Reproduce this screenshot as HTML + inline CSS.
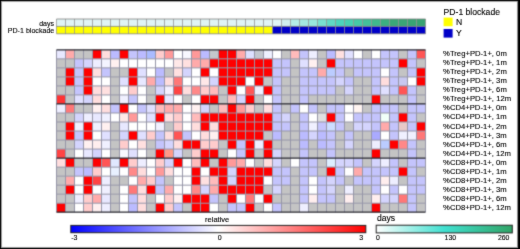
<!DOCTYPE html>
<html><head><meta charset="utf-8"><title>PD-1 blockade heatmap</title>
<style>html,body{margin:0;padding:0;background:#fff;width:520px;height:249px;overflow:hidden}svg{display:block}</style>
</head><body><svg width="520" height="249" viewBox="0 0 520 249"><filter id="bl" filterUnits="userSpaceOnUse" x="0" y="0" width="520" height="249" color-interpolation-filters="sRGB"><feConvolveMatrix order="3" kernelMatrix="0.025 0.1 0.025 0.1 0.5 0.1 0.025 0.1 0.025" edgeMode="duplicate"/></filter><filter id="bt" filterUnits="userSpaceOnUse" x="0" y="0" width="520" height="249" color-interpolation-filters="sRGB"><feConvolveMatrix order="3" kernelMatrix="0.015 0.06 0.015 0.06 0.7 0.06 0.015 0.06 0.015" edgeMode="duplicate"/></filter><g filter="url(#bl)"><rect x="0" y="0" width="520" height="249" fill="#fff"/><rect x="56.5" y="19.0" width="9" height="7.4" fill="#e0f4f4"/><rect x="56.5" y="26.4" width="9" height="7.4" fill="#ffff00"/><rect x="65.5" y="19.0" width="9" height="7.4" fill="#e0f4f4"/><rect x="65.5" y="26.4" width="9" height="7.4" fill="#ffff00"/><rect x="74.5" y="19.0" width="9" height="7.4" fill="#e0f4f4"/><rect x="74.5" y="26.4" width="9" height="7.4" fill="#ffff00"/><rect x="83.5" y="19.0" width="9" height="7.4" fill="#e0f4f4"/><rect x="83.5" y="26.4" width="9" height="7.4" fill="#ffff00"/><rect x="92.5" y="19.0" width="9" height="7.4" fill="#e0f4f4"/><rect x="92.5" y="26.4" width="9" height="7.4" fill="#ffff00"/><rect x="101.5" y="19.0" width="9" height="7.4" fill="#e0f4f4"/><rect x="101.5" y="26.4" width="9" height="7.4" fill="#ffff00"/><rect x="110.5" y="19.0" width="9" height="7.4" fill="#e0f4f4"/><rect x="110.5" y="26.4" width="9" height="7.4" fill="#ffff00"/><rect x="119.5" y="19.0" width="9" height="7.4" fill="#e0f4f4"/><rect x="119.5" y="26.4" width="9" height="7.4" fill="#ffff00"/><rect x="128.5" y="19.0" width="9" height="7.4" fill="#e0f4f4"/><rect x="128.5" y="26.4" width="9" height="7.4" fill="#ffff00"/><rect x="137.5" y="19.0" width="9" height="7.4" fill="#e0f4f4"/><rect x="137.5" y="26.4" width="9" height="7.4" fill="#ffff00"/><rect x="146.5" y="19.0" width="9" height="7.4" fill="#e0f4f4"/><rect x="146.5" y="26.4" width="9" height="7.4" fill="#ffff00"/><rect x="155.5" y="19.0" width="9" height="7.4" fill="#e0f4f4"/><rect x="155.5" y="26.4" width="9" height="7.4" fill="#ffff00"/><rect x="164.5" y="19.0" width="9" height="7.4" fill="#e0f4f4"/><rect x="164.5" y="26.4" width="9" height="7.4" fill="#ffff00"/><rect x="173.5" y="19.0" width="9" height="7.4" fill="#e0f4f4"/><rect x="173.5" y="26.4" width="9" height="7.4" fill="#ffff00"/><rect x="182.5" y="19.0" width="9" height="7.4" fill="#e0f4f4"/><rect x="182.5" y="26.4" width="9" height="7.4" fill="#ffff00"/><rect x="191.5" y="19.0" width="9" height="7.4" fill="#e0f4f4"/><rect x="191.5" y="26.4" width="9" height="7.4" fill="#ffff00"/><rect x="200.5" y="19.0" width="9" height="7.4" fill="#e0f4f4"/><rect x="200.5" y="26.4" width="9" height="7.4" fill="#ffff00"/><rect x="209.5" y="19.0" width="9" height="7.4" fill="#e0f4f4"/><rect x="209.5" y="26.4" width="9" height="7.4" fill="#ffff00"/><rect x="218.5" y="19.0" width="9" height="7.4" fill="#e0f4f4"/><rect x="218.5" y="26.4" width="9" height="7.4" fill="#ffff00"/><rect x="227.5" y="19.0" width="9" height="7.4" fill="#e0f4f4"/><rect x="227.5" y="26.4" width="9" height="7.4" fill="#ffff00"/><rect x="236.5" y="19.0" width="9" height="7.4" fill="#e0f4f4"/><rect x="236.5" y="26.4" width="9" height="7.4" fill="#ffff00"/><rect x="245.5" y="19.0" width="9" height="7.4" fill="#e0f4f4"/><rect x="245.5" y="26.4" width="9" height="7.4" fill="#ffff00"/><rect x="254.5" y="19.0" width="9" height="7.4" fill="#e0f4f4"/><rect x="254.5" y="26.4" width="9" height="7.4" fill="#ffff00"/><rect x="263.5" y="19.0" width="9" height="7.4" fill="#e0f4f4"/><rect x="263.5" y="26.4" width="9" height="7.4" fill="#ffff00"/><rect x="272.5" y="19.0" width="9" height="7.4" fill="#e0f5f5"/><rect x="272.5" y="26.4" width="9" height="7.4" fill="#0000c8"/><rect x="281.5" y="19.0" width="9" height="7.4" fill="#d0f0ee"/><rect x="281.5" y="26.4" width="9" height="7.4" fill="#0000c8"/><rect x="290.5" y="19.0" width="9" height="7.4" fill="#b4ece6"/><rect x="290.5" y="26.4" width="9" height="7.4" fill="#0000c8"/><rect x="299.5" y="19.0" width="9" height="7.4" fill="#a4e8e0"/><rect x="299.5" y="26.4" width="9" height="7.4" fill="#0000c8"/><rect x="308.5" y="19.0" width="9" height="7.4" fill="#98e6dc"/><rect x="308.5" y="26.4" width="9" height="7.4" fill="#0000c8"/><rect x="317.5" y="19.0" width="9" height="7.4" fill="#78dfd0"/><rect x="317.5" y="26.4" width="9" height="7.4" fill="#0000c8"/><rect x="326.5" y="19.0" width="9" height="7.4" fill="#60d8c4"/><rect x="326.5" y="26.4" width="9" height="7.4" fill="#0000c8"/><rect x="335.5" y="19.0" width="9" height="7.4" fill="#4cd4bc"/><rect x="335.5" y="26.4" width="9" height="7.4" fill="#0000c8"/><rect x="344.5" y="19.0" width="9" height="7.4" fill="#48d0b2"/><rect x="344.5" y="26.4" width="9" height="7.4" fill="#0000c8"/><rect x="353.5" y="19.0" width="9" height="7.4" fill="#46c8a6"/><rect x="353.5" y="26.4" width="9" height="7.4" fill="#0000c8"/><rect x="362.5" y="19.0" width="9" height="7.4" fill="#44c09a"/><rect x="362.5" y="26.4" width="9" height="7.4" fill="#0000c8"/><rect x="371.5" y="19.0" width="9" height="7.4" fill="#40b88c"/><rect x="371.5" y="26.4" width="9" height="7.4" fill="#0000c8"/><rect x="380.5" y="19.0" width="9" height="7.4" fill="#3cb080"/><rect x="380.5" y="26.4" width="9" height="7.4" fill="#0000c8"/><rect x="389.5" y="19.0" width="9" height="7.4" fill="#3aa878"/><rect x="389.5" y="26.4" width="9" height="7.4" fill="#0000c8"/><rect x="398.5" y="19.0" width="9" height="7.4" fill="#3aa676"/><rect x="398.5" y="26.4" width="9" height="7.4" fill="#0000c8"/><rect x="407.5" y="19.0" width="9" height="7.4" fill="#38a474"/><rect x="407.5" y="26.4" width="9" height="7.4" fill="#0000c8"/><rect x="416.5" y="19.0" width="9" height="7.4" fill="#38a272"/><rect x="416.5" y="26.4" width="9" height="7.4" fill="#0000c8"/><line x1="56.5" y1="19.0" x2="56.5" y2="33.8" stroke="#8a8a8a" stroke-width="0.7"/><line x1="65.5" y1="19.0" x2="65.5" y2="33.8" stroke="#8a8a8a" stroke-width="0.7"/><line x1="74.5" y1="19.0" x2="74.5" y2="33.8" stroke="#8a8a8a" stroke-width="0.7"/><line x1="83.5" y1="19.0" x2="83.5" y2="33.8" stroke="#8a8a8a" stroke-width="0.7"/><line x1="92.5" y1="19.0" x2="92.5" y2="33.8" stroke="#8a8a8a" stroke-width="0.7"/><line x1="101.5" y1="19.0" x2="101.5" y2="33.8" stroke="#8a8a8a" stroke-width="0.7"/><line x1="110.5" y1="19.0" x2="110.5" y2="33.8" stroke="#8a8a8a" stroke-width="0.7"/><line x1="119.5" y1="19.0" x2="119.5" y2="33.8" stroke="#8a8a8a" stroke-width="0.7"/><line x1="128.5" y1="19.0" x2="128.5" y2="33.8" stroke="#8a8a8a" stroke-width="0.7"/><line x1="137.5" y1="19.0" x2="137.5" y2="33.8" stroke="#8a8a8a" stroke-width="0.7"/><line x1="146.5" y1="19.0" x2="146.5" y2="33.8" stroke="#8a8a8a" stroke-width="0.7"/><line x1="155.5" y1="19.0" x2="155.5" y2="33.8" stroke="#8a8a8a" stroke-width="0.7"/><line x1="164.5" y1="19.0" x2="164.5" y2="33.8" stroke="#8a8a8a" stroke-width="0.7"/><line x1="173.5" y1="19.0" x2="173.5" y2="33.8" stroke="#8a8a8a" stroke-width="0.7"/><line x1="182.5" y1="19.0" x2="182.5" y2="33.8" stroke="#8a8a8a" stroke-width="0.7"/><line x1="191.5" y1="19.0" x2="191.5" y2="33.8" stroke="#8a8a8a" stroke-width="0.7"/><line x1="200.5" y1="19.0" x2="200.5" y2="33.8" stroke="#8a8a8a" stroke-width="0.7"/><line x1="209.5" y1="19.0" x2="209.5" y2="33.8" stroke="#8a8a8a" stroke-width="0.7"/><line x1="218.5" y1="19.0" x2="218.5" y2="33.8" stroke="#8a8a8a" stroke-width="0.7"/><line x1="227.5" y1="19.0" x2="227.5" y2="33.8" stroke="#8a8a8a" stroke-width="0.7"/><line x1="236.5" y1="19.0" x2="236.5" y2="33.8" stroke="#8a8a8a" stroke-width="0.7"/><line x1="245.5" y1="19.0" x2="245.5" y2="33.8" stroke="#8a8a8a" stroke-width="0.7"/><line x1="254.5" y1="19.0" x2="254.5" y2="33.8" stroke="#8a8a8a" stroke-width="0.7"/><line x1="263.5" y1="19.0" x2="263.5" y2="33.8" stroke="#8a8a8a" stroke-width="0.7"/><line x1="272.5" y1="19.0" x2="272.5" y2="33.8" stroke="#8a8a8a" stroke-width="0.7"/><line x1="281.5" y1="19.0" x2="281.5" y2="33.8" stroke="#8a8a8a" stroke-width="0.7"/><line x1="290.5" y1="19.0" x2="290.5" y2="33.8" stroke="#8a8a8a" stroke-width="0.7"/><line x1="299.5" y1="19.0" x2="299.5" y2="33.8" stroke="#8a8a8a" stroke-width="0.7"/><line x1="308.5" y1="19.0" x2="308.5" y2="33.8" stroke="#8a8a8a" stroke-width="0.7"/><line x1="317.5" y1="19.0" x2="317.5" y2="33.8" stroke="#8a8a8a" stroke-width="0.7"/><line x1="326.5" y1="19.0" x2="326.5" y2="33.8" stroke="#8a8a8a" stroke-width="0.7"/><line x1="335.5" y1="19.0" x2="335.5" y2="33.8" stroke="#8a8a8a" stroke-width="0.7"/><line x1="344.5" y1="19.0" x2="344.5" y2="33.8" stroke="#8a8a8a" stroke-width="0.7"/><line x1="353.5" y1="19.0" x2="353.5" y2="33.8" stroke="#8a8a8a" stroke-width="0.7"/><line x1="362.5" y1="19.0" x2="362.5" y2="33.8" stroke="#8a8a8a" stroke-width="0.7"/><line x1="371.5" y1="19.0" x2="371.5" y2="33.8" stroke="#8a8a8a" stroke-width="0.7"/><line x1="380.5" y1="19.0" x2="380.5" y2="33.8" stroke="#8a8a8a" stroke-width="0.7"/><line x1="389.5" y1="19.0" x2="389.5" y2="33.8" stroke="#8a8a8a" stroke-width="0.7"/><line x1="398.5" y1="19.0" x2="398.5" y2="33.8" stroke="#8a8a8a" stroke-width="0.7"/><line x1="407.5" y1="19.0" x2="407.5" y2="33.8" stroke="#8a8a8a" stroke-width="0.7"/><line x1="416.5" y1="19.0" x2="416.5" y2="33.8" stroke="#8a8a8a" stroke-width="0.7"/><line x1="425.5" y1="19.0" x2="425.5" y2="33.8" stroke="#8a8a8a" stroke-width="0.7"/><line x1="56.5" y1="19.0" x2="425.5" y2="19.0" stroke="#808080" stroke-width="0.8"/><line x1="56.5" y1="26.4" x2="425.5" y2="26.4" stroke="#808080" stroke-width="0.8"/><line x1="56.5" y1="33.8" x2="425.5" y2="33.8" stroke="#808080" stroke-width="0.8"/><rect x="56.5" y="49.85" width="9" height="9.02" fill="#e8e8ff"/><rect x="65.5" y="49.85" width="9" height="9.02" fill="#ffaaaa"/><rect x="74.5" y="49.85" width="9" height="9.02" fill="#c4c4c4"/><rect x="83.5" y="49.85" width="9" height="9.02" fill="#c4c4c4"/><rect x="92.5" y="49.85" width="9" height="9.02" fill="#ff0000"/><rect x="101.5" y="49.85" width="9" height="9.02" fill="#ffdddd"/><rect x="110.5" y="49.85" width="9" height="9.02" fill="#bbbbff"/><rect x="119.5" y="49.85" width="9" height="9.02" fill="#ff0000"/><rect x="128.5" y="49.85" width="9" height="9.02" fill="#c4c4fc"/><rect x="137.5" y="49.85" width="9" height="9.02" fill="#bbbbff"/><rect x="146.5" y="49.85" width="9" height="9.02" fill="#aabbff"/><rect x="155.5" y="49.85" width="9" height="9.02" fill="#ffcccc"/><rect x="164.5" y="49.85" width="9" height="9.02" fill="#ff9999"/><rect x="173.5" y="49.85" width="9" height="9.02" fill="#ffffff"/><rect x="182.5" y="49.85" width="9" height="9.02" fill="#f8f8ff"/><rect x="191.5" y="49.85" width="9" height="9.02" fill="#ff9999"/><rect x="200.5" y="49.85" width="9" height="9.02" fill="#bbbbff"/><rect x="209.5" y="49.85" width="9" height="9.02" fill="#c4c8cc"/><rect x="218.5" y="49.85" width="9" height="9.02" fill="#ff0000"/><rect x="227.5" y="49.85" width="9" height="9.02" fill="#ff0000"/><rect x="236.5" y="49.85" width="9" height="9.02" fill="#ffaaaa"/><rect x="245.5" y="49.85" width="9" height="9.02" fill="#dde0ff"/><rect x="254.5" y="49.85" width="9" height="9.02" fill="#c4c8d0"/><rect x="263.5" y="49.85" width="9" height="9.02" fill="#eef0ff"/><rect x="272.5" y="49.85" width="9" height="9.02" fill="#ffffff"/><rect x="281.5" y="49.85" width="9" height="9.02" fill="#c4c4c4"/><rect x="290.5" y="49.85" width="9" height="9.02" fill="#ffbbbb"/><rect x="299.5" y="49.85" width="9" height="9.02" fill="#c4c4fc"/><rect x="308.5" y="49.85" width="9" height="9.02" fill="#eeeeff"/><rect x="317.5" y="49.85" width="9" height="9.02" fill="#c4c4c4"/><rect x="326.5" y="49.85" width="9" height="9.02" fill="#bbbbff"/><rect x="335.5" y="49.85" width="9" height="9.02" fill="#ffe0e0"/><rect x="344.5" y="49.85" width="9" height="9.02" fill="#e0e0ff"/><rect x="353.5" y="49.85" width="9" height="9.02" fill="#ffffff"/><rect x="362.5" y="49.85" width="9" height="9.02" fill="#c4c4c4"/><rect x="371.5" y="49.85" width="9" height="9.02" fill="#ffffff"/><rect x="380.5" y="49.85" width="9" height="9.02" fill="#c4c4fc"/><rect x="389.5" y="49.85" width="9" height="9.02" fill="#c4c4fc"/><rect x="398.5" y="49.85" width="9" height="9.02" fill="#c4c4c4"/><rect x="407.5" y="49.85" width="9" height="9.02" fill="#c4c4fc"/><rect x="416.5" y="49.85" width="9" height="9.02" fill="#ff5555"/><rect x="56.5" y="58.87" width="9" height="9.02" fill="#c4c4c4"/><rect x="65.5" y="58.87" width="9" height="9.02" fill="#c4c4c4"/><rect x="74.5" y="58.87" width="9" height="9.02" fill="#c4c4fc"/><rect x="83.5" y="58.87" width="9" height="9.02" fill="#d4d4fd"/><rect x="92.5" y="58.87" width="9" height="9.02" fill="#eeeeff"/><rect x="101.5" y="58.87" width="9" height="9.02" fill="#f4f4ff"/><rect x="110.5" y="58.87" width="9" height="9.02" fill="#fff0f0"/><rect x="119.5" y="58.87" width="9" height="9.02" fill="#ffffff"/><rect x="128.5" y="58.87" width="9" height="9.02" fill="#ffffff"/><rect x="137.5" y="58.87" width="9" height="9.02" fill="#ffffff"/><rect x="146.5" y="58.87" width="9" height="9.02" fill="#ffffff"/><rect x="155.5" y="58.87" width="9" height="9.02" fill="#ffffff"/><rect x="164.5" y="58.87" width="9" height="9.02" fill="#ffffff"/><rect x="173.5" y="58.87" width="9" height="9.02" fill="#ffe8e8"/><rect x="182.5" y="58.87" width="9" height="9.02" fill="#ffe0e0"/><rect x="191.5" y="58.87" width="9" height="9.02" fill="#ffaaaa"/><rect x="200.5" y="58.87" width="9" height="9.02" fill="#ffaaaa"/><rect x="209.5" y="58.87" width="9" height="9.02" fill="#ff0000"/><rect x="218.5" y="58.87" width="9" height="9.02" fill="#ff0000"/><rect x="227.5" y="58.87" width="9" height="9.02" fill="#ff0000"/><rect x="236.5" y="58.87" width="9" height="9.02" fill="#ff0000"/><rect x="245.5" y="58.87" width="9" height="9.02" fill="#ff0000"/><rect x="254.5" y="58.87" width="9" height="9.02" fill="#ff0000"/><rect x="263.5" y="58.87" width="9" height="9.02" fill="#ff0000"/><rect x="272.5" y="58.87" width="9" height="9.02" fill="#c4c4fc"/><rect x="281.5" y="58.87" width="9" height="9.02" fill="#c4c4fc"/><rect x="290.5" y="58.87" width="9" height="9.02" fill="#c4c4c4"/><rect x="299.5" y="58.87" width="9" height="9.02" fill="#e0e0ff"/><rect x="308.5" y="58.87" width="9" height="9.02" fill="#fff0f0"/><rect x="317.5" y="58.87" width="9" height="9.02" fill="#c4c4c4"/><rect x="326.5" y="58.87" width="9" height="9.02" fill="#ff0000"/><rect x="335.5" y="58.87" width="9" height="9.02" fill="#c4c4fc"/><rect x="344.5" y="58.87" width="9" height="9.02" fill="#c4c4fc"/><rect x="353.5" y="58.87" width="9" height="9.02" fill="#c4c4fc"/><rect x="362.5" y="58.87" width="9" height="9.02" fill="#c4c4fc"/><rect x="371.5" y="58.87" width="9" height="9.02" fill="#c4c4fc"/><rect x="380.5" y="58.87" width="9" height="9.02" fill="#c4c4fc"/><rect x="389.5" y="58.87" width="9" height="9.02" fill="#c4c4fc"/><rect x="398.5" y="58.87" width="9" height="9.02" fill="#ff0000"/><rect x="407.5" y="58.87" width="9" height="9.02" fill="#c4c4fc"/><rect x="416.5" y="58.87" width="9" height="9.02" fill="#c4c4c4"/><rect x="56.5" y="67.89" width="9" height="9.02" fill="#c4c4c4"/><rect x="65.5" y="67.89" width="9" height="9.02" fill="#ff0000"/><rect x="74.5" y="67.89" width="9" height="9.02" fill="#c4c4fc"/><rect x="83.5" y="67.89" width="9" height="9.02" fill="#ff0000"/><rect x="92.5" y="67.89" width="9" height="9.02" fill="#ffe0e0"/><rect x="101.5" y="67.89" width="9" height="9.02" fill="#c4c4fc"/><rect x="110.5" y="67.89" width="9" height="9.02" fill="#c4c4c4"/><rect x="119.5" y="67.89" width="9" height="9.02" fill="#c4c4c4"/><rect x="128.5" y="67.89" width="9" height="9.02" fill="#ff0000"/><rect x="137.5" y="67.89" width="9" height="9.02" fill="#e0e0ff"/><rect x="146.5" y="67.89" width="9" height="9.02" fill="#ffffff"/><rect x="155.5" y="67.89" width="9" height="9.02" fill="#bbbbff"/><rect x="164.5" y="67.89" width="9" height="9.02" fill="#c4c4c4"/><rect x="173.5" y="67.89" width="9" height="9.02" fill="#ffe0e0"/><rect x="182.5" y="67.89" width="9" height="9.02" fill="#d4d4fd"/><rect x="191.5" y="67.89" width="9" height="9.02" fill="#ffffff"/><rect x="200.5" y="67.89" width="9" height="9.02" fill="#ff0000"/><rect x="209.5" y="67.89" width="9" height="9.02" fill="#ffffff"/><rect x="218.5" y="67.89" width="9" height="9.02" fill="#ff0000"/><rect x="227.5" y="67.89" width="9" height="9.02" fill="#ff0000"/><rect x="236.5" y="67.89" width="9" height="9.02" fill="#ff0000"/><rect x="245.5" y="67.89" width="9" height="9.02" fill="#ff0000"/><rect x="254.5" y="67.89" width="9" height="9.02" fill="#ff0000"/><rect x="263.5" y="67.89" width="9" height="9.02" fill="#ff0000"/><rect x="272.5" y="67.89" width="9" height="9.02" fill="#c4c4fc"/><rect x="281.5" y="67.89" width="9" height="9.02" fill="#c4c4fc"/><rect x="290.5" y="67.89" width="9" height="9.02" fill="#c4c4c4"/><rect x="299.5" y="67.89" width="9" height="9.02" fill="#c4c4fc"/><rect x="308.5" y="67.89" width="9" height="9.02" fill="#c4c4fc"/><rect x="317.5" y="67.89" width="9" height="9.02" fill="#ffaaaa"/><rect x="326.5" y="67.89" width="9" height="9.02" fill="#bbccff"/><rect x="335.5" y="67.89" width="9" height="9.02" fill="#c4c4fc"/><rect x="344.5" y="67.89" width="9" height="9.02" fill="#c4c4c4"/><rect x="353.5" y="67.89" width="9" height="9.02" fill="#c4c4fc"/><rect x="362.5" y="67.89" width="9" height="9.02" fill="#c4c4fc"/><rect x="371.5" y="67.89" width="9" height="9.02" fill="#c4c4fc"/><rect x="380.5" y="67.89" width="9" height="9.02" fill="#ffffff"/><rect x="389.5" y="67.89" width="9" height="9.02" fill="#c4c4fc"/><rect x="398.5" y="67.89" width="9" height="9.02" fill="#c4c4c4"/><rect x="407.5" y="67.89" width="9" height="9.02" fill="#c4c4fc"/><rect x="416.5" y="67.89" width="9" height="9.02" fill="#ff0000"/><rect x="56.5" y="76.91" width="9" height="9.02" fill="#c4c4c4"/><rect x="65.5" y="76.91" width="9" height="9.02" fill="#ff0000"/><rect x="74.5" y="76.91" width="9" height="9.02" fill="#c4c4fc"/><rect x="83.5" y="76.91" width="9" height="9.02" fill="#ff0000"/><rect x="92.5" y="76.91" width="9" height="9.02" fill="#ffffff"/><rect x="101.5" y="76.91" width="9" height="9.02" fill="#ffffff"/><rect x="110.5" y="76.91" width="9" height="9.02" fill="#c4c4c4"/><rect x="119.5" y="76.91" width="9" height="9.02" fill="#e0e0ff"/><rect x="128.5" y="76.91" width="9" height="9.02" fill="#ff0000"/><rect x="137.5" y="76.91" width="9" height="9.02" fill="#e8e8ff"/><rect x="146.5" y="76.91" width="9" height="9.02" fill="#ffaaaa"/><rect x="155.5" y="76.91" width="9" height="9.02" fill="#bbbbff"/><rect x="164.5" y="76.91" width="9" height="9.02" fill="#ffdddd"/><rect x="173.5" y="76.91" width="9" height="9.02" fill="#ff7777"/><rect x="182.5" y="76.91" width="9" height="9.02" fill="#ffffff"/><rect x="191.5" y="76.91" width="9" height="9.02" fill="#ffffff"/><rect x="200.5" y="76.91" width="9" height="9.02" fill="#ffe8e8"/><rect x="209.5" y="76.91" width="9" height="9.02" fill="#d4d4fd"/><rect x="218.5" y="76.91" width="9" height="9.02" fill="#ff0000"/><rect x="227.5" y="76.91" width="9" height="9.02" fill="#ff0000"/><rect x="236.5" y="76.91" width="9" height="9.02" fill="#ff0000"/><rect x="245.5" y="76.91" width="9" height="9.02" fill="#ffffff"/><rect x="254.5" y="76.91" width="9" height="9.02" fill="#ff0000"/><rect x="263.5" y="76.91" width="9" height="9.02" fill="#c4c4c4"/><rect x="272.5" y="76.91" width="9" height="9.02" fill="#c4c4fc"/><rect x="281.5" y="76.91" width="9" height="9.02" fill="#c4c4c4"/><rect x="290.5" y="76.91" width="9" height="9.02" fill="#c4c4c4"/><rect x="299.5" y="76.91" width="9" height="9.02" fill="#c4c4fc"/><rect x="308.5" y="76.91" width="9" height="9.02" fill="#c4c4fc"/><rect x="317.5" y="76.91" width="9" height="9.02" fill="#c4c4fc"/><rect x="326.5" y="76.91" width="9" height="9.02" fill="#c4c4fc"/><rect x="335.5" y="76.91" width="9" height="9.02" fill="#d4d4fd"/><rect x="344.5" y="76.91" width="9" height="9.02" fill="#c4c4fc"/><rect x="353.5" y="76.91" width="9" height="9.02" fill="#c4c4c4"/><rect x="362.5" y="76.91" width="9" height="9.02" fill="#c4c4c4"/><rect x="371.5" y="76.91" width="9" height="9.02" fill="#c4c4fc"/><rect x="380.5" y="76.91" width="9" height="9.02" fill="#ffdddd"/><rect x="389.5" y="76.91" width="9" height="9.02" fill="#c4c4fc"/><rect x="398.5" y="76.91" width="9" height="9.02" fill="#c8c8f0"/><rect x="407.5" y="76.91" width="9" height="9.02" fill="#ffffff"/><rect x="416.5" y="76.91" width="9" height="9.02" fill="#ff0000"/><rect x="56.5" y="85.93" width="9" height="9.02" fill="#c4c4c4"/><rect x="65.5" y="85.93" width="9" height="9.02" fill="#c4c4c4"/><rect x="74.5" y="85.93" width="9" height="9.02" fill="#c4c4fc"/><rect x="83.5" y="85.93" width="9" height="9.02" fill="#ff0000"/><rect x="92.5" y="85.93" width="9" height="9.02" fill="#ffdddd"/><rect x="101.5" y="85.93" width="9" height="9.02" fill="#ffe0e0"/><rect x="110.5" y="85.93" width="9" height="9.02" fill="#c4c4c4"/><rect x="119.5" y="85.93" width="9" height="9.02" fill="#ffffff"/><rect x="128.5" y="85.93" width="9" height="9.02" fill="#ffcccc"/><rect x="137.5" y="85.93" width="9" height="9.02" fill="#ffffff"/><rect x="146.5" y="85.93" width="9" height="9.02" fill="#c4c4c4"/><rect x="155.5" y="85.93" width="9" height="9.02" fill="#d4d4fd"/><rect x="164.5" y="85.93" width="9" height="9.02" fill="#f4f0ff"/><rect x="173.5" y="85.93" width="9" height="9.02" fill="#ff4444"/><rect x="182.5" y="85.93" width="9" height="9.02" fill="#ffdddd"/><rect x="191.5" y="85.93" width="9" height="9.02" fill="#ff8888"/><rect x="200.5" y="85.93" width="9" height="9.02" fill="#ffcccc"/><rect x="209.5" y="85.93" width="9" height="9.02" fill="#ffbbbb"/><rect x="218.5" y="85.93" width="9" height="9.02" fill="#c4c4c4"/><rect x="227.5" y="85.93" width="9" height="9.02" fill="#ff0000"/><rect x="236.5" y="85.93" width="9" height="9.02" fill="#ffffff"/><rect x="245.5" y="85.93" width="9" height="9.02" fill="#ff5555"/><rect x="254.5" y="85.93" width="9" height="9.02" fill="#f0f0ff"/><rect x="263.5" y="85.93" width="9" height="9.02" fill="#ff0000"/><rect x="272.5" y="85.93" width="9" height="9.02" fill="#c4c4fc"/><rect x="281.5" y="85.93" width="9" height="9.02" fill="#c4c4c4"/><rect x="290.5" y="85.93" width="9" height="9.02" fill="#c4c4c4"/><rect x="299.5" y="85.93" width="9" height="9.02" fill="#c4c4fc"/><rect x="308.5" y="85.93" width="9" height="9.02" fill="#c4c4fc"/><rect x="317.5" y="85.93" width="9" height="9.02" fill="#c4c4fc"/><rect x="326.5" y="85.93" width="9" height="9.02" fill="#c4c4fc"/><rect x="335.5" y="85.93" width="9" height="9.02" fill="#c4c4c4"/><rect x="344.5" y="85.93" width="9" height="9.02" fill="#d4d4fd"/><rect x="353.5" y="85.93" width="9" height="9.02" fill="#c4c4c4"/><rect x="362.5" y="85.93" width="9" height="9.02" fill="#c4c4c4"/><rect x="371.5" y="85.93" width="9" height="9.02" fill="#c4c4fc"/><rect x="380.5" y="85.93" width="9" height="9.02" fill="#e0e0ff"/><rect x="389.5" y="85.93" width="9" height="9.02" fill="#c4c4fc"/><rect x="398.5" y="85.93" width="9" height="9.02" fill="#ff5555"/><rect x="407.5" y="85.93" width="9" height="9.02" fill="#c4c4fc"/><rect x="416.5" y="85.93" width="9" height="9.02" fill="#c4c4c4"/><rect x="56.5" y="94.95" width="9" height="9.02" fill="#ff3333"/><rect x="65.5" y="94.95" width="9" height="9.02" fill="#c4c4c4"/><rect x="74.5" y="94.95" width="9" height="9.02" fill="#e0e0ff"/><rect x="83.5" y="94.95" width="9" height="9.02" fill="#d4d4fd"/><rect x="92.5" y="94.95" width="9" height="9.02" fill="#ffdddd"/><rect x="101.5" y="94.95" width="9" height="9.02" fill="#ffffff"/><rect x="110.5" y="94.95" width="9" height="9.02" fill="#c4c4c4"/><rect x="119.5" y="94.95" width="9" height="9.02" fill="#f0f0ff"/><rect x="128.5" y="94.95" width="9" height="9.02" fill="#c4c4fc"/><rect x="137.5" y="94.95" width="9" height="9.02" fill="#ffffff"/><rect x="146.5" y="94.95" width="9" height="9.02" fill="#c4c4c4"/><rect x="155.5" y="94.95" width="9" height="9.02" fill="#ff0000"/><rect x="164.5" y="94.95" width="9" height="9.02" fill="#e8e8ff"/><rect x="173.5" y="94.95" width="9" height="9.02" fill="#ffffff"/><rect x="182.5" y="94.95" width="9" height="9.02" fill="#c4c4c4"/><rect x="191.5" y="94.95" width="9" height="9.02" fill="#ffffff"/><rect x="200.5" y="94.95" width="9" height="9.02" fill="#ff0000"/><rect x="209.5" y="94.95" width="9" height="9.02" fill="#ff0000"/><rect x="218.5" y="94.95" width="9" height="9.02" fill="#c4c4c4"/><rect x="227.5" y="94.95" width="9" height="9.02" fill="#ffbbbb"/><rect x="236.5" y="94.95" width="9" height="9.02" fill="#d4d4fd"/><rect x="245.5" y="94.95" width="9" height="9.02" fill="#ff0000"/><rect x="254.5" y="94.95" width="9" height="9.02" fill="#c4c4c4"/><rect x="263.5" y="94.95" width="9" height="9.02" fill="#ffffff"/><rect x="272.5" y="94.95" width="9" height="9.02" fill="#c4c4fc"/><rect x="281.5" y="94.95" width="9" height="9.02" fill="#c4c4c4"/><rect x="290.5" y="94.95" width="9" height="9.02" fill="#c4c4c4"/><rect x="299.5" y="94.95" width="9" height="9.02" fill="#c4c4fc"/><rect x="308.5" y="94.95" width="9" height="9.02" fill="#c4c4c4"/><rect x="317.5" y="94.95" width="9" height="9.02" fill="#c4c4c4"/><rect x="326.5" y="94.95" width="9" height="9.02" fill="#c4c4c4"/><rect x="335.5" y="94.95" width="9" height="9.02" fill="#c4c4c4"/><rect x="344.5" y="94.95" width="9" height="9.02" fill="#c4c4c4"/><rect x="353.5" y="94.95" width="9" height="9.02" fill="#c4c4c4"/><rect x="362.5" y="94.95" width="9" height="9.02" fill="#c4c4c4"/><rect x="371.5" y="94.95" width="9" height="9.02" fill="#ff0000"/><rect x="380.5" y="94.95" width="9" height="9.02" fill="#c4c4c4"/><rect x="389.5" y="94.95" width="9" height="9.02" fill="#c4c4c4"/><rect x="398.5" y="94.95" width="9" height="9.02" fill="#c4c4c4"/><rect x="407.5" y="94.95" width="9" height="9.02" fill="#c4c4fc"/><rect x="416.5" y="94.95" width="9" height="9.02" fill="#c4c4c4"/><rect x="56.5" y="103.97" width="9" height="9.02" fill="#eeeeff"/><rect x="65.5" y="103.97" width="9" height="9.02" fill="#ff7777"/><rect x="74.5" y="103.97" width="9" height="9.02" fill="#c4c4c4"/><rect x="83.5" y="103.97" width="9" height="9.02" fill="#c4c4c4"/><rect x="92.5" y="103.97" width="9" height="9.02" fill="#fff0f0"/><rect x="101.5" y="103.97" width="9" height="9.02" fill="#ffdddd"/><rect x="110.5" y="103.97" width="9" height="9.02" fill="#c4c4fc"/><rect x="119.5" y="103.97" width="9" height="9.02" fill="#ff0000"/><rect x="128.5" y="103.97" width="9" height="9.02" fill="#ffffff"/><rect x="137.5" y="103.97" width="9" height="9.02" fill="#c4c4fc"/><rect x="146.5" y="103.97" width="9" height="9.02" fill="#e0e0ff"/><rect x="155.5" y="103.97" width="9" height="9.02" fill="#ffbbbb"/><rect x="164.5" y="103.97" width="9" height="9.02" fill="#ffaaaa"/><rect x="173.5" y="103.97" width="9" height="9.02" fill="#ffaaaa"/><rect x="182.5" y="103.97" width="9" height="9.02" fill="#ffffff"/><rect x="191.5" y="103.97" width="9" height="9.02" fill="#fff0f0"/><rect x="200.5" y="103.97" width="9" height="9.02" fill="#d4d4fd"/><rect x="209.5" y="103.97" width="9" height="9.02" fill="#c4c4c4"/><rect x="218.5" y="103.97" width="9" height="9.02" fill="#ffbbbb"/><rect x="227.5" y="103.97" width="9" height="9.02" fill="#ff0000"/><rect x="236.5" y="103.97" width="9" height="9.02" fill="#ff9999"/><rect x="245.5" y="103.97" width="9" height="9.02" fill="#ffcccc"/><rect x="254.5" y="103.97" width="9" height="9.02" fill="#c4c4c4"/><rect x="263.5" y="103.97" width="9" height="9.02" fill="#ffdddd"/><rect x="272.5" y="103.97" width="9" height="9.02" fill="#c4c4fc"/><rect x="281.5" y="103.97" width="9" height="9.02" fill="#c4c4c4"/><rect x="290.5" y="103.97" width="9" height="9.02" fill="#c4c4fc"/><rect x="299.5" y="103.97" width="9" height="9.02" fill="#ffffff"/><rect x="308.5" y="103.97" width="9" height="9.02" fill="#c4c4fc"/><rect x="317.5" y="103.97" width="9" height="9.02" fill="#c4c4c4"/><rect x="326.5" y="103.97" width="9" height="9.02" fill="#c4c4fc"/><rect x="335.5" y="103.97" width="9" height="9.02" fill="#c4c4fc"/><rect x="344.5" y="103.97" width="9" height="9.02" fill="#ffffff"/><rect x="353.5" y="103.97" width="9" height="9.02" fill="#fff4f0"/><rect x="362.5" y="103.97" width="9" height="9.02" fill="#c4c4c4"/><rect x="371.5" y="103.97" width="9" height="9.02" fill="#c4c4fc"/><rect x="380.5" y="103.97" width="9" height="9.02" fill="#c4c4fc"/><rect x="389.5" y="103.97" width="9" height="9.02" fill="#c4c4fc"/><rect x="398.5" y="103.97" width="9" height="9.02" fill="#c4c4c4"/><rect x="407.5" y="103.97" width="9" height="9.02" fill="#c4c4fc"/><rect x="416.5" y="103.97" width="9" height="9.02" fill="#c4c4fc"/><rect x="56.5" y="112.99" width="9" height="9.02" fill="#c4c4c4"/><rect x="65.5" y="112.99" width="9" height="9.02" fill="#c4c4c4"/><rect x="74.5" y="112.99" width="9" height="9.02" fill="#d4d4fd"/><rect x="83.5" y="112.99" width="9" height="9.02" fill="#eeeeff"/><rect x="92.5" y="112.99" width="9" height="9.02" fill="#e8e8ff"/><rect x="101.5" y="112.99" width="9" height="9.02" fill="#f0f0ff"/><rect x="110.5" y="112.99" width="9" height="9.02" fill="#ffffff"/><rect x="119.5" y="112.99" width="9" height="9.02" fill="#ffe8e8"/><rect x="128.5" y="112.99" width="9" height="9.02" fill="#ff9999"/><rect x="137.5" y="112.99" width="9" height="9.02" fill="#ffffff"/><rect x="146.5" y="112.99" width="9" height="9.02" fill="#e0e0ff"/><rect x="155.5" y="112.99" width="9" height="9.02" fill="#ff0000"/><rect x="164.5" y="112.99" width="9" height="9.02" fill="#ffe0e0"/><rect x="173.5" y="112.99" width="9" height="9.02" fill="#ffcccc"/><rect x="182.5" y="112.99" width="9" height="9.02" fill="#ffffff"/><rect x="191.5" y="112.99" width="9" height="9.02" fill="#ffbbbb"/><rect x="200.5" y="112.99" width="9" height="9.02" fill="#ff0000"/><rect x="209.5" y="112.99" width="9" height="9.02" fill="#ff0000"/><rect x="218.5" y="112.99" width="9" height="9.02" fill="#ff0000"/><rect x="227.5" y="112.99" width="9" height="9.02" fill="#ff0000"/><rect x="236.5" y="112.99" width="9" height="9.02" fill="#ff0000"/><rect x="245.5" y="112.99" width="9" height="9.02" fill="#ff0000"/><rect x="254.5" y="112.99" width="9" height="9.02" fill="#ff0000"/><rect x="263.5" y="112.99" width="9" height="9.02" fill="#ff0000"/><rect x="272.5" y="112.99" width="9" height="9.02" fill="#c4c4fc"/><rect x="281.5" y="112.99" width="9" height="9.02" fill="#d4d4fd"/><rect x="290.5" y="112.99" width="9" height="9.02" fill="#c4c4c4"/><rect x="299.5" y="112.99" width="9" height="9.02" fill="#c4c4fc"/><rect x="308.5" y="112.99" width="9" height="9.02" fill="#ffffff"/><rect x="317.5" y="112.99" width="9" height="9.02" fill="#e0e0e0"/><rect x="326.5" y="112.99" width="9" height="9.02" fill="#ff0000"/><rect x="335.5" y="112.99" width="9" height="9.02" fill="#c4c4fc"/><rect x="344.5" y="112.99" width="9" height="9.02" fill="#ffffff"/><rect x="353.5" y="112.99" width="9" height="9.02" fill="#c4c4fc"/><rect x="362.5" y="112.99" width="9" height="9.02" fill="#c4c4fc"/><rect x="371.5" y="112.99" width="9" height="9.02" fill="#c4c4fc"/><rect x="380.5" y="112.99" width="9" height="9.02" fill="#f0fff8"/><rect x="389.5" y="112.99" width="9" height="9.02" fill="#c4c4fc"/><rect x="398.5" y="112.99" width="9" height="9.02" fill="#ff0000"/><rect x="407.5" y="112.99" width="9" height="9.02" fill="#c4c4fc"/><rect x="416.5" y="112.99" width="9" height="9.02" fill="#c4c4c4"/><rect x="56.5" y="122.01" width="9" height="9.02" fill="#c4c4c4"/><rect x="65.5" y="122.01" width="9" height="9.02" fill="#ff0000"/><rect x="74.5" y="122.01" width="9" height="9.02" fill="#f0f0ff"/><rect x="83.5" y="122.01" width="9" height="9.02" fill="#ff0000"/><rect x="92.5" y="122.01" width="9" height="9.02" fill="#f0f0ff"/><rect x="101.5" y="122.01" width="9" height="9.02" fill="#fff0f0"/><rect x="110.5" y="122.01" width="9" height="9.02" fill="#c4c4c4"/><rect x="119.5" y="122.01" width="9" height="9.02" fill="#e8e8ff"/><rect x="128.5" y="122.01" width="9" height="9.02" fill="#ffffff"/><rect x="137.5" y="122.01" width="9" height="9.02" fill="#ffffff"/><rect x="146.5" y="122.01" width="9" height="9.02" fill="#ffffff"/><rect x="155.5" y="122.01" width="9" height="9.02" fill="#f0f0ff"/><rect x="164.5" y="122.01" width="9" height="9.02" fill="#c4c4c4"/><rect x="173.5" y="122.01" width="9" height="9.02" fill="#ffcccc"/><rect x="182.5" y="122.01" width="9" height="9.02" fill="#ffffff"/><rect x="191.5" y="122.01" width="9" height="9.02" fill="#ffdddd"/><rect x="200.5" y="122.01" width="9" height="9.02" fill="#ff0000"/><rect x="209.5" y="122.01" width="9" height="9.02" fill="#ffdddd"/><rect x="218.5" y="122.01" width="9" height="9.02" fill="#ff0000"/><rect x="227.5" y="122.01" width="9" height="9.02" fill="#ff0000"/><rect x="236.5" y="122.01" width="9" height="9.02" fill="#ff0000"/><rect x="245.5" y="122.01" width="9" height="9.02" fill="#ff0000"/><rect x="254.5" y="122.01" width="9" height="9.02" fill="#ff0000"/><rect x="263.5" y="122.01" width="9" height="9.02" fill="#ff0000"/><rect x="272.5" y="122.01" width="9" height="9.02" fill="#c4c4fc"/><rect x="281.5" y="122.01" width="9" height="9.02" fill="#c4c4fc"/><rect x="290.5" y="122.01" width="9" height="9.02" fill="#c4c4c4"/><rect x="299.5" y="122.01" width="9" height="9.02" fill="#c4c4fc"/><rect x="308.5" y="122.01" width="9" height="9.02" fill="#f0f0ff"/><rect x="317.5" y="122.01" width="9" height="9.02" fill="#c4c4fc"/><rect x="326.5" y="122.01" width="9" height="9.02" fill="#ccddff"/><rect x="335.5" y="122.01" width="9" height="9.02" fill="#c4c4fc"/><rect x="344.5" y="122.01" width="9" height="9.02" fill="#c4c4c4"/><rect x="353.5" y="122.01" width="9" height="9.02" fill="#d4d4fd"/><rect x="362.5" y="122.01" width="9" height="9.02" fill="#d4d4fd"/><rect x="371.5" y="122.01" width="9" height="9.02" fill="#c4c4fc"/><rect x="380.5" y="122.01" width="9" height="9.02" fill="#ffaaaa"/><rect x="389.5" y="122.01" width="9" height="9.02" fill="#c4c4fc"/><rect x="398.5" y="122.01" width="9" height="9.02" fill="#e8c8c8"/><rect x="407.5" y="122.01" width="9" height="9.02" fill="#c4c4fc"/><rect x="416.5" y="122.01" width="9" height="9.02" fill="#ff0000"/><rect x="56.5" y="131.03" width="9" height="9.02" fill="#c4c4c4"/><rect x="65.5" y="131.03" width="9" height="9.02" fill="#ff0000"/><rect x="74.5" y="131.03" width="9" height="9.02" fill="#c4c4fc"/><rect x="83.5" y="131.03" width="9" height="9.02" fill="#ff0000"/><rect x="92.5" y="131.03" width="9" height="9.02" fill="#ffffff"/><rect x="101.5" y="131.03" width="9" height="9.02" fill="#e0e0ff"/><rect x="110.5" y="131.03" width="9" height="9.02" fill="#c4c4c4"/><rect x="119.5" y="131.03" width="9" height="9.02" fill="#d4d4fd"/><rect x="128.5" y="131.03" width="9" height="9.02" fill="#ff0000"/><rect x="137.5" y="131.03" width="9" height="9.02" fill="#e0e0ff"/><rect x="146.5" y="131.03" width="9" height="9.02" fill="#ffcccc"/><rect x="155.5" y="131.03" width="9" height="9.02" fill="#c4c4fc"/><rect x="164.5" y="131.03" width="9" height="9.02" fill="#ffdddd"/><rect x="173.5" y="131.03" width="9" height="9.02" fill="#ff5555"/><rect x="182.5" y="131.03" width="9" height="9.02" fill="#c4c4fc"/><rect x="191.5" y="131.03" width="9" height="9.02" fill="#ffffff"/><rect x="200.5" y="131.03" width="9" height="9.02" fill="#ffdddd"/><rect x="209.5" y="131.03" width="9" height="9.02" fill="#fff0f0"/><rect x="218.5" y="131.03" width="9" height="9.02" fill="#ff0000"/><rect x="227.5" y="131.03" width="9" height="9.02" fill="#ff0000"/><rect x="236.5" y="131.03" width="9" height="9.02" fill="#ff0000"/><rect x="245.5" y="131.03" width="9" height="9.02" fill="#ff0000"/><rect x="254.5" y="131.03" width="9" height="9.02" fill="#ff0000"/><rect x="263.5" y="131.03" width="9" height="9.02" fill="#c4c4c4"/><rect x="272.5" y="131.03" width="9" height="9.02" fill="#bbbbff"/><rect x="281.5" y="131.03" width="9" height="9.02" fill="#c4c4c4"/><rect x="290.5" y="131.03" width="9" height="9.02" fill="#c4c4c4"/><rect x="299.5" y="131.03" width="9" height="9.02" fill="#bbbbff"/><rect x="308.5" y="131.03" width="9" height="9.02" fill="#d4d4fd"/><rect x="317.5" y="131.03" width="9" height="9.02" fill="#bbbbff"/><rect x="326.5" y="131.03" width="9" height="9.02" fill="#c4c4fc"/><rect x="335.5" y="131.03" width="9" height="9.02" fill="#c4c4c4"/><rect x="344.5" y="131.03" width="9" height="9.02" fill="#c4c4fc"/><rect x="353.5" y="131.03" width="9" height="9.02" fill="#c4c4c4"/><rect x="362.5" y="131.03" width="9" height="9.02" fill="#c4c4c4"/><rect x="371.5" y="131.03" width="9" height="9.02" fill="#aaaaff"/><rect x="380.5" y="131.03" width="9" height="9.02" fill="#ffffff"/><rect x="389.5" y="131.03" width="9" height="9.02" fill="#c4c4fc"/><rect x="398.5" y="131.03" width="9" height="9.02" fill="#f0f0ff"/><rect x="407.5" y="131.03" width="9" height="9.02" fill="#f0f0ff"/><rect x="416.5" y="131.03" width="9" height="9.02" fill="#ff7777"/><rect x="56.5" y="140.05" width="9" height="9.02" fill="#c4c4c4"/><rect x="65.5" y="140.05" width="9" height="9.02" fill="#c4c4c4"/><rect x="74.5" y="140.05" width="9" height="9.02" fill="#d4d4fd"/><rect x="83.5" y="140.05" width="9" height="9.02" fill="#fff0f0"/><rect x="92.5" y="140.05" width="9" height="9.02" fill="#ffeeee"/><rect x="101.5" y="140.05" width="9" height="9.02" fill="#f0f0ff"/><rect x="110.5" y="140.05" width="9" height="9.02" fill="#c4c4c4"/><rect x="119.5" y="140.05" width="9" height="9.02" fill="#ffcccc"/><rect x="128.5" y="140.05" width="9" height="9.02" fill="#ffffff"/><rect x="137.5" y="140.05" width="9" height="9.02" fill="#ffe0e0"/><rect x="146.5" y="140.05" width="9" height="9.02" fill="#c4c4c4"/><rect x="155.5" y="140.05" width="9" height="9.02" fill="#c4c4fc"/><rect x="164.5" y="140.05" width="9" height="9.02" fill="#d4d4fd"/><rect x="173.5" y="140.05" width="9" height="9.02" fill="#ffdddd"/><rect x="182.5" y="140.05" width="9" height="9.02" fill="#ff0000"/><rect x="191.5" y="140.05" width="9" height="9.02" fill="#ff0000"/><rect x="200.5" y="140.05" width="9" height="9.02" fill="#ffcccc"/><rect x="209.5" y="140.05" width="9" height="9.02" fill="#ffcccc"/><rect x="218.5" y="140.05" width="9" height="9.02" fill="#c4c4c4"/><rect x="227.5" y="140.05" width="9" height="9.02" fill="#ff0000"/><rect x="236.5" y="140.05" width="9" height="9.02" fill="#c4c4fc"/><rect x="245.5" y="140.05" width="9" height="9.02" fill="#ff0000"/><rect x="254.5" y="140.05" width="9" height="9.02" fill="#eeeeff"/><rect x="263.5" y="140.05" width="9" height="9.02" fill="#ff0000"/><rect x="272.5" y="140.05" width="9" height="9.02" fill="#c4c4c4"/><rect x="281.5" y="140.05" width="9" height="9.02" fill="#c4c4c4"/><rect x="290.5" y="140.05" width="9" height="9.02" fill="#c4c4c4"/><rect x="299.5" y="140.05" width="9" height="9.02" fill="#bbbbff"/><rect x="308.5" y="140.05" width="9" height="9.02" fill="#c4c4c4"/><rect x="317.5" y="140.05" width="9" height="9.02" fill="#bbbbff"/><rect x="326.5" y="140.05" width="9" height="9.02" fill="#c4c4fc"/><rect x="335.5" y="140.05" width="9" height="9.02" fill="#c4c4c4"/><rect x="344.5" y="140.05" width="9" height="9.02" fill="#d4d4fd"/><rect x="353.5" y="140.05" width="9" height="9.02" fill="#c4c4c4"/><rect x="362.5" y="140.05" width="9" height="9.02" fill="#c4c4c4"/><rect x="371.5" y="140.05" width="9" height="9.02" fill="#eeeeff"/><rect x="380.5" y="140.05" width="9" height="9.02" fill="#bbccff"/><rect x="389.5" y="140.05" width="9" height="9.02" fill="#ff0000"/><rect x="398.5" y="140.05" width="9" height="9.02" fill="#ff8888"/><rect x="407.5" y="140.05" width="9" height="9.02" fill="#c4c4fc"/><rect x="416.5" y="140.05" width="9" height="9.02" fill="#c4c4c4"/><rect x="56.5" y="149.07" width="9" height="9.02" fill="#ff4444"/><rect x="65.5" y="149.07" width="9" height="9.02" fill="#c4c4c4"/><rect x="74.5" y="149.07" width="9" height="9.02" fill="#ffffff"/><rect x="83.5" y="149.07" width="9" height="9.02" fill="#e8e8ff"/><rect x="92.5" y="149.07" width="9" height="9.02" fill="#d4d4fd"/><rect x="101.5" y="149.07" width="9" height="9.02" fill="#ffffff"/><rect x="110.5" y="149.07" width="9" height="9.02" fill="#c4c4c4"/><rect x="119.5" y="149.07" width="9" height="9.02" fill="#f8f8ff"/><rect x="128.5" y="149.07" width="9" height="9.02" fill="#e0e0ff"/><rect x="137.5" y="149.07" width="9" height="9.02" fill="#ffffff"/><rect x="146.5" y="149.07" width="9" height="9.02" fill="#c4c4c4"/><rect x="155.5" y="149.07" width="9" height="9.02" fill="#ff0000"/><rect x="164.5" y="149.07" width="9" height="9.02" fill="#ff9988"/><rect x="173.5" y="149.07" width="9" height="9.02" fill="#d4d4fd"/><rect x="182.5" y="149.07" width="9" height="9.02" fill="#c4c4c4"/><rect x="191.5" y="149.07" width="9" height="9.02" fill="#ffcccc"/><rect x="200.5" y="149.07" width="9" height="9.02" fill="#ff0000"/><rect x="209.5" y="149.07" width="9" height="9.02" fill="#ff0000"/><rect x="218.5" y="149.07" width="9" height="9.02" fill="#c4c4c4"/><rect x="227.5" y="149.07" width="9" height="9.02" fill="#ffffff"/><rect x="236.5" y="149.07" width="9" height="9.02" fill="#c4c4fc"/><rect x="245.5" y="149.07" width="9" height="9.02" fill="#ff0000"/><rect x="254.5" y="149.07" width="9" height="9.02" fill="#c4c4c4"/><rect x="263.5" y="149.07" width="9" height="9.02" fill="#ff0000"/><rect x="272.5" y="149.07" width="9" height="9.02" fill="#d4d4fd"/><rect x="281.5" y="149.07" width="9" height="9.02" fill="#c4c4c4"/><rect x="290.5" y="149.07" width="9" height="9.02" fill="#c4c4c4"/><rect x="299.5" y="149.07" width="9" height="9.02" fill="#c4c4fc"/><rect x="308.5" y="149.07" width="9" height="9.02" fill="#c4c4c4"/><rect x="317.5" y="149.07" width="9" height="9.02" fill="#c4c4c4"/><rect x="326.5" y="149.07" width="9" height="9.02" fill="#c4c4fc"/><rect x="335.5" y="149.07" width="9" height="9.02" fill="#c4c4c4"/><rect x="344.5" y="149.07" width="9" height="9.02" fill="#c4c4c4"/><rect x="353.5" y="149.07" width="9" height="9.02" fill="#c4c4c4"/><rect x="362.5" y="149.07" width="9" height="9.02" fill="#c4c4c4"/><rect x="371.5" y="149.07" width="9" height="9.02" fill="#ff0000"/><rect x="380.5" y="149.07" width="9" height="9.02" fill="#c4c4c4"/><rect x="389.5" y="149.07" width="9" height="9.02" fill="#c4c4c4"/><rect x="398.5" y="149.07" width="9" height="9.02" fill="#c4c4c4"/><rect x="407.5" y="149.07" width="9" height="9.02" fill="#c4c4fc"/><rect x="416.5" y="149.07" width="9" height="9.02" fill="#c4c4c4"/><rect x="56.5" y="158.09" width="9" height="9.02" fill="#ffdddd"/><rect x="65.5" y="158.09" width="9" height="9.02" fill="#ff0000"/><rect x="74.5" y="158.09" width="9" height="9.02" fill="#c4c4c4"/><rect x="83.5" y="158.09" width="9" height="9.02" fill="#c4c4c4"/><rect x="92.5" y="158.09" width="9" height="9.02" fill="#ff0000"/><rect x="101.5" y="158.09" width="9" height="9.02" fill="#ff5555"/><rect x="110.5" y="158.09" width="9" height="9.02" fill="#e0e8ff"/><rect x="119.5" y="158.09" width="9" height="9.02" fill="#ff0000"/><rect x="128.5" y="158.09" width="9" height="9.02" fill="#ffcccc"/><rect x="137.5" y="158.09" width="9" height="9.02" fill="#eeeeff"/><rect x="146.5" y="158.09" width="9" height="9.02" fill="#ffffff"/><rect x="155.5" y="158.09" width="9" height="9.02" fill="#ffcccc"/><rect x="164.5" y="158.09" width="9" height="9.02" fill="#d4d4fd"/><rect x="173.5" y="158.09" width="9" height="9.02" fill="#ff0000"/><rect x="182.5" y="158.09" width="9" height="9.02" fill="#ffffff"/><rect x="191.5" y="158.09" width="9" height="9.02" fill="#ffbbbb"/><rect x="200.5" y="158.09" width="9" height="9.02" fill="#ff0000"/><rect x="209.5" y="158.09" width="9" height="9.02" fill="#c4c4c4"/><rect x="218.5" y="158.09" width="9" height="9.02" fill="#ff0000"/><rect x="227.5" y="158.09" width="9" height="9.02" fill="#ff9999"/><rect x="236.5" y="158.09" width="9" height="9.02" fill="#ffaaaa"/><rect x="245.5" y="158.09" width="9" height="9.02" fill="#ffffff"/><rect x="254.5" y="158.09" width="9" height="9.02" fill="#c4c4c4"/><rect x="263.5" y="158.09" width="9" height="9.02" fill="#ffdddd"/><rect x="272.5" y="158.09" width="9" height="9.02" fill="#d4d4fd"/><rect x="281.5" y="158.09" width="9" height="9.02" fill="#c4c4c4"/><rect x="290.5" y="158.09" width="9" height="9.02" fill="#ffffff"/><rect x="299.5" y="158.09" width="9" height="9.02" fill="#c4c4fc"/><rect x="308.5" y="158.09" width="9" height="9.02" fill="#c4c4fc"/><rect x="317.5" y="158.09" width="9" height="9.02" fill="#c4c4c4"/><rect x="326.5" y="158.09" width="9" height="9.02" fill="#ddeeff"/><rect x="335.5" y="158.09" width="9" height="9.02" fill="#d4d4fd"/><rect x="344.5" y="158.09" width="9" height="9.02" fill="#d4d4fd"/><rect x="353.5" y="158.09" width="9" height="9.02" fill="#c4c4fc"/><rect x="362.5" y="158.09" width="9" height="9.02" fill="#c4c4c4"/><rect x="371.5" y="158.09" width="9" height="9.02" fill="#d4d4fd"/><rect x="380.5" y="158.09" width="9" height="9.02" fill="#eeeeff"/><rect x="389.5" y="158.09" width="9" height="9.02" fill="#c4c4fc"/><rect x="398.5" y="158.09" width="9" height="9.02" fill="#c4c4c4"/><rect x="407.5" y="158.09" width="9" height="9.02" fill="#c4c4fc"/><rect x="416.5" y="158.09" width="9" height="9.02" fill="#c4c4fc"/><rect x="56.5" y="167.11" width="9" height="9.02" fill="#c4c4c4"/><rect x="65.5" y="167.11" width="9" height="9.02" fill="#c4c4c4"/><rect x="74.5" y="167.11" width="9" height="9.02" fill="#c4c4fc"/><rect x="83.5" y="167.11" width="9" height="9.02" fill="#bbbbff"/><rect x="92.5" y="167.11" width="9" height="9.02" fill="#ffcccc"/><rect x="101.5" y="167.11" width="9" height="9.02" fill="#ffffff"/><rect x="110.5" y="167.11" width="9" height="9.02" fill="#e8f0ff"/><rect x="119.5" y="167.11" width="9" height="9.02" fill="#ffffff"/><rect x="128.5" y="167.11" width="9" height="9.02" fill="#ff8888"/><rect x="137.5" y="167.11" width="9" height="9.02" fill="#ffdddd"/><rect x="146.5" y="167.11" width="9" height="9.02" fill="#ffffff"/><rect x="155.5" y="167.11" width="9" height="9.02" fill="#ff9999"/><rect x="164.5" y="167.11" width="9" height="9.02" fill="#ffdddd"/><rect x="173.5" y="167.11" width="9" height="9.02" fill="#ffffff"/><rect x="182.5" y="167.11" width="9" height="9.02" fill="#ffffff"/><rect x="191.5" y="167.11" width="9" height="9.02" fill="#ff0000"/><rect x="200.5" y="167.11" width="9" height="9.02" fill="#ffffff"/><rect x="209.5" y="167.11" width="9" height="9.02" fill="#ff0000"/><rect x="218.5" y="167.11" width="9" height="9.02" fill="#ff0000"/><rect x="227.5" y="167.11" width="9" height="9.02" fill="#d4d4fd"/><rect x="236.5" y="167.11" width="9" height="9.02" fill="#ff0000"/><rect x="245.5" y="167.11" width="9" height="9.02" fill="#ff0000"/><rect x="254.5" y="167.11" width="9" height="9.02" fill="#ff0000"/><rect x="263.5" y="167.11" width="9" height="9.02" fill="#ff0000"/><rect x="272.5" y="167.11" width="9" height="9.02" fill="#c4c4fc"/><rect x="281.5" y="167.11" width="9" height="9.02" fill="#c4c4fc"/><rect x="290.5" y="167.11" width="9" height="9.02" fill="#c4c4c4"/><rect x="299.5" y="167.11" width="9" height="9.02" fill="#c4c4fc"/><rect x="308.5" y="167.11" width="9" height="9.02" fill="#c4c4fc"/><rect x="317.5" y="167.11" width="9" height="9.02" fill="#c4c4c4"/><rect x="326.5" y="167.11" width="9" height="9.02" fill="#ff0000"/><rect x="335.5" y="167.11" width="9" height="9.02" fill="#c4c4fc"/><rect x="344.5" y="167.11" width="9" height="9.02" fill="#ffffff"/><rect x="353.5" y="167.11" width="9" height="9.02" fill="#ffaaaa"/><rect x="362.5" y="167.11" width="9" height="9.02" fill="#c4c4fc"/><rect x="371.5" y="167.11" width="9" height="9.02" fill="#c4c4fc"/><rect x="380.5" y="167.11" width="9" height="9.02" fill="#c4c4fc"/><rect x="389.5" y="167.11" width="9" height="9.02" fill="#c4c4fc"/><rect x="398.5" y="167.11" width="9" height="9.02" fill="#ff0000"/><rect x="407.5" y="167.11" width="9" height="9.02" fill="#c4c4fc"/><rect x="416.5" y="167.11" width="9" height="9.02" fill="#c4c4c4"/><rect x="56.5" y="176.13" width="9" height="9.02" fill="#c4c4c4"/><rect x="65.5" y="176.13" width="9" height="9.02" fill="#ffaaaa"/><rect x="74.5" y="176.13" width="9" height="9.02" fill="#ffffff"/><rect x="83.5" y="176.13" width="9" height="9.02" fill="#ff0000"/><rect x="92.5" y="176.13" width="9" height="9.02" fill="#ff4444"/><rect x="101.5" y="176.13" width="9" height="9.02" fill="#eeeeff"/><rect x="110.5" y="176.13" width="9" height="9.02" fill="#c4c4c4"/><rect x="119.5" y="176.13" width="9" height="9.02" fill="#c4c4c4"/><rect x="128.5" y="176.13" width="9" height="9.02" fill="#ffffff"/><rect x="137.5" y="176.13" width="9" height="9.02" fill="#ffaaaa"/><rect x="146.5" y="176.13" width="9" height="9.02" fill="#ffcccc"/><rect x="155.5" y="176.13" width="9" height="9.02" fill="#c4c4fc"/><rect x="164.5" y="176.13" width="9" height="9.02" fill="#c4c4c4"/><rect x="173.5" y="176.13" width="9" height="9.02" fill="#ffffff"/><rect x="182.5" y="176.13" width="9" height="9.02" fill="#ffffff"/><rect x="191.5" y="176.13" width="9" height="9.02" fill="#ff0000"/><rect x="200.5" y="176.13" width="9" height="9.02" fill="#ffe0e0"/><rect x="209.5" y="176.13" width="9" height="9.02" fill="#ffbbbb"/><rect x="218.5" y="176.13" width="9" height="9.02" fill="#ff0000"/><rect x="227.5" y="176.13" width="9" height="9.02" fill="#d4d4fd"/><rect x="236.5" y="176.13" width="9" height="9.02" fill="#ff0000"/><rect x="245.5" y="176.13" width="9" height="9.02" fill="#ff0000"/><rect x="254.5" y="176.13" width="9" height="9.02" fill="#ff0000"/><rect x="263.5" y="176.13" width="9" height="9.02" fill="#ffffff"/><rect x="272.5" y="176.13" width="9" height="9.02" fill="#c4c4fc"/><rect x="281.5" y="176.13" width="9" height="9.02" fill="#c4c4fc"/><rect x="290.5" y="176.13" width="9" height="9.02" fill="#c4c4c4"/><rect x="299.5" y="176.13" width="9" height="9.02" fill="#c4c4fc"/><rect x="308.5" y="176.13" width="9" height="9.02" fill="#ffffff"/><rect x="317.5" y="176.13" width="9" height="9.02" fill="#c4c4fc"/><rect x="326.5" y="176.13" width="9" height="9.02" fill="#d4d4fd"/><rect x="335.5" y="176.13" width="9" height="9.02" fill="#c4c4fc"/><rect x="344.5" y="176.13" width="9" height="9.02" fill="#c4c4c4"/><rect x="353.5" y="176.13" width="9" height="9.02" fill="#c4c4fc"/><rect x="362.5" y="176.13" width="9" height="9.02" fill="#c4c4fc"/><rect x="371.5" y="176.13" width="9" height="9.02" fill="#c4c4fc"/><rect x="380.5" y="176.13" width="9" height="9.02" fill="#ffeeee"/><rect x="389.5" y="176.13" width="9" height="9.02" fill="#eeeeff"/><rect x="398.5" y="176.13" width="9" height="9.02" fill="#c4c4c4"/><rect x="407.5" y="176.13" width="9" height="9.02" fill="#c4c4fc"/><rect x="416.5" y="176.13" width="9" height="9.02" fill="#c4c4fc"/><rect x="56.5" y="185.15" width="9" height="9.02" fill="#c4c4c4"/><rect x="65.5" y="185.15" width="9" height="9.02" fill="#ff0000"/><rect x="74.5" y="185.15" width="9" height="9.02" fill="#ffffff"/><rect x="83.5" y="185.15" width="9" height="9.02" fill="#ff0000"/><rect x="92.5" y="185.15" width="9" height="9.02" fill="#ffffff"/><rect x="101.5" y="185.15" width="9" height="9.02" fill="#f0f0ff"/><rect x="110.5" y="185.15" width="9" height="9.02" fill="#c4c4c4"/><rect x="119.5" y="185.15" width="9" height="9.02" fill="#ffffff"/><rect x="128.5" y="185.15" width="9" height="9.02" fill="#ff7777"/><rect x="137.5" y="185.15" width="9" height="9.02" fill="#ffdddd"/><rect x="146.5" y="185.15" width="9" height="9.02" fill="#ff0000"/><rect x="155.5" y="185.15" width="9" height="9.02" fill="#c4c4fc"/><rect x="164.5" y="185.15" width="9" height="9.02" fill="#ffaaaa"/><rect x="173.5" y="185.15" width="9" height="9.02" fill="#ffffff"/><rect x="182.5" y="185.15" width="9" height="9.02" fill="#ffffff"/><rect x="191.5" y="185.15" width="9" height="9.02" fill="#ff8888"/><rect x="200.5" y="185.15" width="9" height="9.02" fill="#d4d4fd"/><rect x="209.5" y="185.15" width="9" height="9.02" fill="#ffaaaa"/><rect x="218.5" y="185.15" width="9" height="9.02" fill="#ff0000"/><rect x="227.5" y="185.15" width="9" height="9.02" fill="#ff0000"/><rect x="236.5" y="185.15" width="9" height="9.02" fill="#ff0000"/><rect x="245.5" y="185.15" width="9" height="9.02" fill="#ff0000"/><rect x="254.5" y="185.15" width="9" height="9.02" fill="#ff0000"/><rect x="263.5" y="185.15" width="9" height="9.02" fill="#c4c4c4"/><rect x="272.5" y="185.15" width="9" height="9.02" fill="#d4d4fd"/><rect x="281.5" y="185.15" width="9" height="9.02" fill="#c4c4c4"/><rect x="290.5" y="185.15" width="9" height="9.02" fill="#c4c4c4"/><rect x="299.5" y="185.15" width="9" height="9.02" fill="#c4c4fc"/><rect x="308.5" y="185.15" width="9" height="9.02" fill="#ffffff"/><rect x="317.5" y="185.15" width="9" height="9.02" fill="#c4c4fc"/><rect x="326.5" y="185.15" width="9" height="9.02" fill="#d4d4fd"/><rect x="335.5" y="185.15" width="9" height="9.02" fill="#c4c4c4"/><rect x="344.5" y="185.15" width="9" height="9.02" fill="#eeeeff"/><rect x="353.5" y="185.15" width="9" height="9.02" fill="#c4c4c4"/><rect x="362.5" y="185.15" width="9" height="9.02" fill="#c4c4c4"/><rect x="371.5" y="185.15" width="9" height="9.02" fill="#c4c4fc"/><rect x="380.5" y="185.15" width="9" height="9.02" fill="#ffffff"/><rect x="389.5" y="185.15" width="9" height="9.02" fill="#c4c4fc"/><rect x="398.5" y="185.15" width="9" height="9.02" fill="#ffffff"/><rect x="407.5" y="185.15" width="9" height="9.02" fill="#c4c4fc"/><rect x="416.5" y="185.15" width="9" height="9.02" fill="#c4c4fc"/><rect x="56.5" y="194.17" width="9" height="9.02" fill="#c4c4c4"/><rect x="65.5" y="194.17" width="9" height="9.02" fill="#c4c4c4"/><rect x="74.5" y="194.17" width="9" height="9.02" fill="#eeeeff"/><rect x="83.5" y="194.17" width="9" height="9.02" fill="#ffcccc"/><rect x="92.5" y="194.17" width="9" height="9.02" fill="#ffaaaa"/><rect x="101.5" y="194.17" width="9" height="9.02" fill="#e8e8ff"/><rect x="110.5" y="194.17" width="9" height="9.02" fill="#c4c4c4"/><rect x="119.5" y="194.17" width="9" height="9.02" fill="#ffffff"/><rect x="128.5" y="194.17" width="9" height="9.02" fill="#c4c4fc"/><rect x="137.5" y="194.17" width="9" height="9.02" fill="#ffdddd"/><rect x="146.5" y="194.17" width="9" height="9.02" fill="#c4c4c4"/><rect x="155.5" y="194.17" width="9" height="9.02" fill="#ffffff"/><rect x="164.5" y="194.17" width="9" height="9.02" fill="#ffcccc"/><rect x="173.5" y="194.17" width="9" height="9.02" fill="#fff0f0"/><rect x="182.5" y="194.17" width="9" height="9.02" fill="#ff0000"/><rect x="191.5" y="194.17" width="9" height="9.02" fill="#ff0000"/><rect x="200.5" y="194.17" width="9" height="9.02" fill="#ff0000"/><rect x="209.5" y="194.17" width="9" height="9.02" fill="#c4c4fc"/><rect x="218.5" y="194.17" width="9" height="9.02" fill="#c4c4c4"/><rect x="227.5" y="194.17" width="9" height="9.02" fill="#ff0000"/><rect x="236.5" y="194.17" width="9" height="9.02" fill="#ffffff"/><rect x="245.5" y="194.17" width="9" height="9.02" fill="#ff7777"/><rect x="254.5" y="194.17" width="9" height="9.02" fill="#ffffff"/><rect x="263.5" y="194.17" width="9" height="9.02" fill="#ff0000"/><rect x="272.5" y="194.17" width="9" height="9.02" fill="#c4c4c4"/><rect x="281.5" y="194.17" width="9" height="9.02" fill="#c4c4c4"/><rect x="290.5" y="194.17" width="9" height="9.02" fill="#c4c4c4"/><rect x="299.5" y="194.17" width="9" height="9.02" fill="#c4c4fc"/><rect x="308.5" y="194.17" width="9" height="9.02" fill="#ffeeee"/><rect x="317.5" y="194.17" width="9" height="9.02" fill="#c4c4fc"/><rect x="326.5" y="194.17" width="9" height="9.02" fill="#c4c4fc"/><rect x="335.5" y="194.17" width="9" height="9.02" fill="#c4c4c4"/><rect x="344.5" y="194.17" width="9" height="9.02" fill="#ffeeee"/><rect x="353.5" y="194.17" width="9" height="9.02" fill="#c4c4c4"/><rect x="362.5" y="194.17" width="9" height="9.02" fill="#c4c4c4"/><rect x="371.5" y="194.17" width="9" height="9.02" fill="#ffeeee"/><rect x="380.5" y="194.17" width="9" height="9.02" fill="#d4d4fd"/><rect x="389.5" y="194.17" width="9" height="9.02" fill="#d4d4fd"/><rect x="398.5" y="194.17" width="9" height="9.02" fill="#ff7777"/><rect x="407.5" y="194.17" width="9" height="9.02" fill="#c4c4fc"/><rect x="416.5" y="194.17" width="9" height="9.02" fill="#c4c4c4"/><rect x="56.5" y="203.19" width="9" height="9.02" fill="#ff0000"/><rect x="65.5" y="203.19" width="9" height="9.02" fill="#c4c4c4"/><rect x="74.5" y="203.19" width="9" height="9.02" fill="#ffffff"/><rect x="83.5" y="203.19" width="9" height="9.02" fill="#ffcccc"/><rect x="92.5" y="203.19" width="9" height="9.02" fill="#fff0f0"/><rect x="101.5" y="203.19" width="9" height="9.02" fill="#eeeeff"/><rect x="110.5" y="203.19" width="9" height="9.02" fill="#c4c4c4"/><rect x="119.5" y="203.19" width="9" height="9.02" fill="#ffffff"/><rect x="128.5" y="203.19" width="9" height="9.02" fill="#bbbbff"/><rect x="137.5" y="203.19" width="9" height="9.02" fill="#ffdddd"/><rect x="146.5" y="203.19" width="9" height="9.02" fill="#c4c4c4"/><rect x="155.5" y="203.19" width="9" height="9.02" fill="#ff0000"/><rect x="164.5" y="203.19" width="9" height="9.02" fill="#ffcccc"/><rect x="173.5" y="203.19" width="9" height="9.02" fill="#c4c4fc"/><rect x="182.5" y="203.19" width="9" height="9.02" fill="#c4c4c4"/><rect x="191.5" y="203.19" width="9" height="9.02" fill="#ff0000"/><rect x="200.5" y="203.19" width="9" height="9.02" fill="#ff0000"/><rect x="209.5" y="203.19" width="9" height="9.02" fill="#ffffff"/><rect x="218.5" y="203.19" width="9" height="9.02" fill="#c4c4c4"/><rect x="227.5" y="203.19" width="9" height="9.02" fill="#c4c4fc"/><rect x="236.5" y="203.19" width="9" height="9.02" fill="#c4c4fc"/><rect x="245.5" y="203.19" width="9" height="9.02" fill="#ff0000"/><rect x="254.5" y="203.19" width="9" height="9.02" fill="#c4c4c4"/><rect x="263.5" y="203.19" width="9" height="9.02" fill="#ffffff"/><rect x="272.5" y="203.19" width="9" height="9.02" fill="#c4c4fc"/><rect x="281.5" y="203.19" width="9" height="9.02" fill="#c4c4c4"/><rect x="290.5" y="203.19" width="9" height="9.02" fill="#c4c4c4"/><rect x="299.5" y="203.19" width="9" height="9.02" fill="#eeeeff"/><rect x="308.5" y="203.19" width="9" height="9.02" fill="#c4c4c4"/><rect x="317.5" y="203.19" width="9" height="9.02" fill="#c4c4c4"/><rect x="326.5" y="203.19" width="9" height="9.02" fill="#c4c4c4"/><rect x="335.5" y="203.19" width="9" height="9.02" fill="#c4c4c4"/><rect x="344.5" y="203.19" width="9" height="9.02" fill="#c4c4c4"/><rect x="353.5" y="203.19" width="9" height="9.02" fill="#c4c4c4"/><rect x="362.5" y="203.19" width="9" height="9.02" fill="#c4c4c4"/><rect x="371.5" y="203.19" width="9" height="9.02" fill="#ff0000"/><rect x="380.5" y="203.19" width="9" height="9.02" fill="#c4c4c4"/><rect x="389.5" y="203.19" width="9" height="9.02" fill="#c4c4c4"/><rect x="398.5" y="203.19" width="9" height="9.02" fill="#c4c4c4"/><rect x="407.5" y="203.19" width="9" height="9.02" fill="#c4c4fc"/><rect x="416.5" y="203.19" width="9" height="9.02" fill="#c4c4c4"/><line x1="56.5" y1="49.85" x2="56.5" y2="212.21" stroke="#9696a8" stroke-width="1"/><line x1="65.5" y1="49.85" x2="65.5" y2="212.21" stroke="#9696a8" stroke-width="1"/><line x1="74.5" y1="49.85" x2="74.5" y2="212.21" stroke="#9696a8" stroke-width="1"/><line x1="83.5" y1="49.85" x2="83.5" y2="212.21" stroke="#9696a8" stroke-width="1"/><line x1="92.5" y1="49.85" x2="92.5" y2="212.21" stroke="#9696a8" stroke-width="1"/><line x1="101.5" y1="49.85" x2="101.5" y2="212.21" stroke="#9696a8" stroke-width="1"/><line x1="110.5" y1="49.85" x2="110.5" y2="212.21" stroke="#9696a8" stroke-width="1"/><line x1="119.5" y1="49.85" x2="119.5" y2="212.21" stroke="#9696a8" stroke-width="1"/><line x1="128.5" y1="49.85" x2="128.5" y2="212.21" stroke="#9696a8" stroke-width="1"/><line x1="137.5" y1="49.85" x2="137.5" y2="212.21" stroke="#9696a8" stroke-width="1"/><line x1="146.5" y1="49.85" x2="146.5" y2="212.21" stroke="#9696a8" stroke-width="1"/><line x1="155.5" y1="49.85" x2="155.5" y2="212.21" stroke="#9696a8" stroke-width="1"/><line x1="164.5" y1="49.85" x2="164.5" y2="212.21" stroke="#9696a8" stroke-width="1"/><line x1="173.5" y1="49.85" x2="173.5" y2="212.21" stroke="#9696a8" stroke-width="1"/><line x1="182.5" y1="49.85" x2="182.5" y2="212.21" stroke="#9696a8" stroke-width="1"/><line x1="191.5" y1="49.85" x2="191.5" y2="212.21" stroke="#9696a8" stroke-width="1"/><line x1="200.5" y1="49.85" x2="200.5" y2="212.21" stroke="#9696a8" stroke-width="1"/><line x1="209.5" y1="49.85" x2="209.5" y2="212.21" stroke="#9696a8" stroke-width="1"/><line x1="218.5" y1="49.85" x2="218.5" y2="212.21" stroke="#9696a8" stroke-width="1"/><line x1="227.5" y1="49.85" x2="227.5" y2="212.21" stroke="#9696a8" stroke-width="1"/><line x1="236.5" y1="49.85" x2="236.5" y2="212.21" stroke="#9696a8" stroke-width="1"/><line x1="245.5" y1="49.85" x2="245.5" y2="212.21" stroke="#9696a8" stroke-width="1"/><line x1="254.5" y1="49.85" x2="254.5" y2="212.21" stroke="#9696a8" stroke-width="1"/><line x1="263.5" y1="49.85" x2="263.5" y2="212.21" stroke="#9696a8" stroke-width="1"/><line x1="272.5" y1="49.85" x2="272.5" y2="212.21" stroke="#9696a8" stroke-width="1"/><line x1="281.5" y1="49.85" x2="281.5" y2="212.21" stroke="#9696a8" stroke-width="1"/><line x1="290.5" y1="49.85" x2="290.5" y2="212.21" stroke="#9696a8" stroke-width="1"/><line x1="299.5" y1="49.85" x2="299.5" y2="212.21" stroke="#9696a8" stroke-width="1"/><line x1="308.5" y1="49.85" x2="308.5" y2="212.21" stroke="#9696a8" stroke-width="1"/><line x1="317.5" y1="49.85" x2="317.5" y2="212.21" stroke="#9696a8" stroke-width="1"/><line x1="326.5" y1="49.85" x2="326.5" y2="212.21" stroke="#9696a8" stroke-width="1"/><line x1="335.5" y1="49.85" x2="335.5" y2="212.21" stroke="#9696a8" stroke-width="1"/><line x1="344.5" y1="49.85" x2="344.5" y2="212.21" stroke="#9696a8" stroke-width="1"/><line x1="353.5" y1="49.85" x2="353.5" y2="212.21" stroke="#9696a8" stroke-width="1"/><line x1="362.5" y1="49.85" x2="362.5" y2="212.21" stroke="#9696a8" stroke-width="1"/><line x1="371.5" y1="49.85" x2="371.5" y2="212.21" stroke="#9696a8" stroke-width="1"/><line x1="380.5" y1="49.85" x2="380.5" y2="212.21" stroke="#9696a8" stroke-width="1"/><line x1="389.5" y1="49.85" x2="389.5" y2="212.21" stroke="#9696a8" stroke-width="1"/><line x1="398.5" y1="49.85" x2="398.5" y2="212.21" stroke="#9696a8" stroke-width="1"/><line x1="407.5" y1="49.85" x2="407.5" y2="212.21" stroke="#9696a8" stroke-width="1"/><line x1="416.5" y1="49.85" x2="416.5" y2="212.21" stroke="#9696a8" stroke-width="1"/><line x1="425.5" y1="49.85" x2="425.5" y2="212.21" stroke="#9696a8" stroke-width="1"/><line x1="56.5" y1="49.85" x2="425.5" y2="49.85" stroke="#282830" stroke-width="1.2"/><line x1="56.5" y1="58.87" x2="425.5" y2="58.87" stroke="#9696a8" stroke-width="1"/><line x1="56.5" y1="67.89" x2="425.5" y2="67.89" stroke="#9696a8" stroke-width="1"/><line x1="56.5" y1="76.91" x2="425.5" y2="76.91" stroke="#9696a8" stroke-width="1"/><line x1="56.5" y1="85.93" x2="425.5" y2="85.93" stroke="#9696a8" stroke-width="1"/><line x1="56.5" y1="94.95" x2="425.5" y2="94.95" stroke="#9696a8" stroke-width="1"/><line x1="56.5" y1="103.97" x2="425.5" y2="103.97" stroke="#282830" stroke-width="1.2"/><line x1="56.5" y1="112.99" x2="425.5" y2="112.99" stroke="#9696a8" stroke-width="1"/><line x1="56.5" y1="122.01" x2="425.5" y2="122.01" stroke="#9696a8" stroke-width="1"/><line x1="56.5" y1="131.03" x2="425.5" y2="131.03" stroke="#9696a8" stroke-width="1"/><line x1="56.5" y1="140.05" x2="425.5" y2="140.05" stroke="#9696a8" stroke-width="1"/><line x1="56.5" y1="149.07" x2="425.5" y2="149.07" stroke="#9696a8" stroke-width="1"/><line x1="56.5" y1="158.09" x2="425.5" y2="158.09" stroke="#282830" stroke-width="1.2"/><line x1="56.5" y1="167.11" x2="425.5" y2="167.11" stroke="#9696a8" stroke-width="1"/><line x1="56.5" y1="176.13" x2="425.5" y2="176.13" stroke="#9696a8" stroke-width="1"/><line x1="56.5" y1="185.15" x2="425.5" y2="185.15" stroke="#9696a8" stroke-width="1"/><line x1="56.5" y1="194.17" x2="425.5" y2="194.17" stroke="#9696a8" stroke-width="1"/><line x1="56.5" y1="203.19" x2="425.5" y2="203.19" stroke="#9696a8" stroke-width="1"/><line x1="56.5" y1="212.21" x2="425.5" y2="212.21" stroke="#282830" stroke-width="1.2"/><rect x="443.6" y="17.6" width="9" height="8.6" fill="#ffff00"/><rect x="443.6" y="29.0" width="9" height="8.6" fill="#0000c8"/><defs><linearGradient id="rel" x1="0" x2="1" y1="0" y2="0"><stop offset="0" stop-color="#0000ff"/><stop offset="0.5" stop-color="#ffffff"/><stop offset="1" stop-color="#ff0000"/></linearGradient><linearGradient id="days" x1="0" x2="1" y1="0" y2="0"><stop offset="0" stop-color="#ffffff"/><stop offset="0.5" stop-color="#40e0d0"/><stop offset="1" stop-color="#30a466"/></linearGradient></defs><rect x="70.8" y="225.4" width="295" height="7.3" fill="url(#rel)" stroke="#222" stroke-width="1"/><rect x="376.2" y="225.2" width="136.1" height="7.7" fill="url(#days)" stroke="#222" stroke-width="1"/><rect x="0.5" y="0.5" width="518" height="247.5" fill="none" stroke="#000" stroke-width="1"/><rect x="518" y="0" width="2" height="249" fill="#000"/><rect x="0" y="248" width="520" height="1" fill="#000"/><rect x="517" y="1" width="1" height="247" fill="#909090"/><rect x="1" y="1" width="516" height="1" fill="#b0b0b0"/><rect x="1" y="1" width="1" height="247" fill="#a0a0a0"/><rect x="1" y="247" width="517" height="1" fill="#a0a0a0"/></g><g filter="url(#bt)"><text x="54.0" y="25.55" font-size="7" text-anchor="end" font-family="Liberation Sans, Arial, sans-serif" stroke="#000" stroke-width="0.12" fill="#000">days</text><text x="54.3" y="33.0" font-size="7.1" text-anchor="end" font-family="Liberation Sans, Arial, sans-serif" stroke="#000" stroke-width="0.12" fill="#000">PD-1 blockade</text><text x="443.6" y="14.5" font-size="8.6" font-family="Liberation Sans, Arial, sans-serif" stroke="#000" stroke-width="0.12" fill="#000">PD-1 blockade</text><text x="455.9" y="25.2" font-size="8.6" font-family="Liberation Sans, Arial, sans-serif" stroke="#000" stroke-width="0.12" fill="#000">N</text><text x="455.9" y="36.3" font-size="8.6" font-family="Liberation Sans, Arial, sans-serif" stroke="#000" stroke-width="0.12" fill="#000">Y</text><text x="443.1" y="56.35" font-size="7.7" textLength="63.70" lengthAdjust="spacingAndGlyphs" font-family="Liberation Sans, Arial, sans-serif" stroke="#000" stroke-width="0.12" fill="#000">%Treg+PD-1+, 0m</text><text x="443.1" y="65.37" font-size="7.7" textLength="63.70" lengthAdjust="spacingAndGlyphs" font-family="Liberation Sans, Arial, sans-serif" stroke="#000" stroke-width="0.12" fill="#000">%Treg+PD-1+, 1m</text><text x="443.1" y="74.39" font-size="7.7" textLength="63.70" lengthAdjust="spacingAndGlyphs" font-family="Liberation Sans, Arial, sans-serif" stroke="#000" stroke-width="0.12" fill="#000">%Treg+PD-1+, 2m</text><text x="443.1" y="83.41" font-size="7.7" textLength="63.70" lengthAdjust="spacingAndGlyphs" font-family="Liberation Sans, Arial, sans-serif" stroke="#000" stroke-width="0.12" fill="#000">%Treg+PD-1+, 3m</text><text x="443.1" y="92.43" font-size="7.7" textLength="63.70" lengthAdjust="spacingAndGlyphs" font-family="Liberation Sans, Arial, sans-serif" stroke="#000" stroke-width="0.12" fill="#000">%Treg+PD-1+, 6m</text><text x="443.1" y="101.45" font-size="7.7" textLength="67.97" lengthAdjust="spacingAndGlyphs" font-family="Liberation Sans, Arial, sans-serif" stroke="#000" stroke-width="0.12" fill="#000">%Treg+PD-1+, 12m</text><text x="443.1" y="110.47" font-size="7.7" textLength="63.56" lengthAdjust="spacingAndGlyphs" font-family="Liberation Sans, Arial, sans-serif" stroke="#000" stroke-width="0.12" fill="#000">%CD4+PD-1+, 0m</text><text x="443.1" y="119.49" font-size="7.7" textLength="63.56" lengthAdjust="spacingAndGlyphs" font-family="Liberation Sans, Arial, sans-serif" stroke="#000" stroke-width="0.12" fill="#000">%CD4+PD-1+, 1m</text><text x="443.1" y="128.51" font-size="7.7" textLength="63.56" lengthAdjust="spacingAndGlyphs" font-family="Liberation Sans, Arial, sans-serif" stroke="#000" stroke-width="0.12" fill="#000">%CD4+PD-1+, 2m</text><text x="443.1" y="137.53" font-size="7.7" textLength="63.56" lengthAdjust="spacingAndGlyphs" font-family="Liberation Sans, Arial, sans-serif" stroke="#000" stroke-width="0.12" fill="#000">%CD4+PD-1+, 3m</text><text x="443.1" y="146.55" font-size="7.7" textLength="63.56" lengthAdjust="spacingAndGlyphs" font-family="Liberation Sans, Arial, sans-serif" stroke="#000" stroke-width="0.12" fill="#000">%CD4+PD-1+, 6m</text><text x="443.1" y="155.57" font-size="7.7" textLength="67.82" lengthAdjust="spacingAndGlyphs" font-family="Liberation Sans, Arial, sans-serif" stroke="#000" stroke-width="0.12" fill="#000">%CD4+PD-1+, 12m</text><text x="443.1" y="164.59" font-size="7.7" textLength="63.56" lengthAdjust="spacingAndGlyphs" font-family="Liberation Sans, Arial, sans-serif" stroke="#000" stroke-width="0.12" fill="#000">%CD8+PD-1+, 0m</text><text x="443.1" y="173.61" font-size="7.7" textLength="63.56" lengthAdjust="spacingAndGlyphs" font-family="Liberation Sans, Arial, sans-serif" stroke="#000" stroke-width="0.12" fill="#000">%CD8+PD-1+, 1m</text><text x="443.1" y="182.63" font-size="7.7" textLength="63.56" lengthAdjust="spacingAndGlyphs" font-family="Liberation Sans, Arial, sans-serif" stroke="#000" stroke-width="0.12" fill="#000">%CD8+PD-1+, 2m</text><text x="443.1" y="191.65" font-size="7.7" textLength="63.56" lengthAdjust="spacingAndGlyphs" font-family="Liberation Sans, Arial, sans-serif" stroke="#000" stroke-width="0.12" fill="#000">%CD8+PD-1+, 3m</text><text x="443.1" y="200.67" font-size="7.7" textLength="63.56" lengthAdjust="spacingAndGlyphs" font-family="Liberation Sans, Arial, sans-serif" stroke="#000" stroke-width="0.12" fill="#000">%CD8+PD-1+, 6m</text><text x="443.1" y="209.69" font-size="7.7" textLength="67.82" lengthAdjust="spacingAndGlyphs" font-family="Liberation Sans, Arial, sans-serif" stroke="#000" stroke-width="0.12" fill="#000">%CD8+PD-1+, 12m</text><text x="205.1" y="222.4" font-size="7.5" font-family="Liberation Sans, Arial, sans-serif" stroke="#000" stroke-width="0.12" fill="#000">relative</text><text x="71.2" y="240.2" font-size="7" font-family="Liberation Sans, Arial, sans-serif" stroke="#000" stroke-width="0.12" fill="#000">-3</text><text x="219.6" y="240.2" font-size="7" text-anchor="middle" font-family="Liberation Sans, Arial, sans-serif" stroke="#000" stroke-width="0.12" fill="#000">0</text><text x="363.2" y="240.2" font-size="7" text-anchor="end" font-family="Liberation Sans, Arial, sans-serif" stroke="#000" stroke-width="0.12" fill="#000">3</text><text x="376.9" y="221" font-size="8.6" font-family="Liberation Sans, Arial, sans-serif" stroke="#000" stroke-width="0.12" fill="#000">days</text><text x="376" y="240.2" font-size="6.9" font-family="Liberation Sans, Arial, sans-serif" stroke="#000" stroke-width="0.12" fill="#000">0</text><text x="450.3" y="240.2" font-size="6.9" text-anchor="middle" font-family="Liberation Sans, Arial, sans-serif" stroke="#000" stroke-width="0.12" fill="#000">130</text><text x="509.4" y="240.2" font-size="6.9" text-anchor="end" font-family="Liberation Sans, Arial, sans-serif" stroke="#000" stroke-width="0.12" fill="#000">260</text></g></svg></body></html>
